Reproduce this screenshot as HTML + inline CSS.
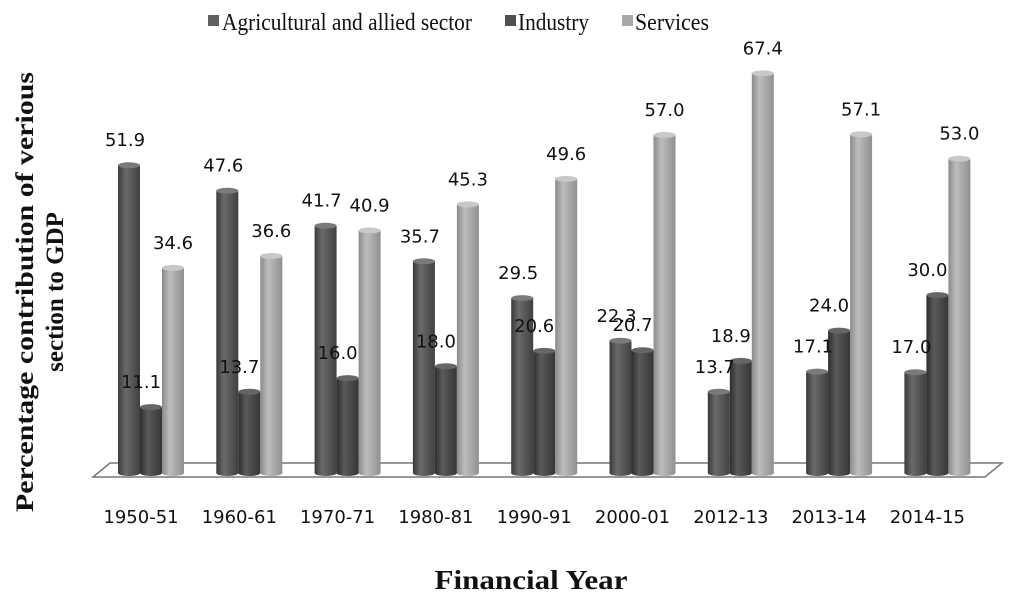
<!DOCTYPE html>
<html><head><style>body{margin:0;background:#fff}</style></head><body>
<svg width="1024" height="607" xmlns="http://www.w3.org/2000/svg">
<defs>
<linearGradient id="ga" x1="0" x2="1"><stop offset="0" stop-color="#3a3a3a"/><stop offset="0.35" stop-color="#6a6a6a"/><stop offset="1" stop-color="#404040"/></linearGradient>
<linearGradient id="gi" x1="0" x2="1"><stop offset="0" stop-color="#2e2e2e"/><stop offset="0.35" stop-color="#5a5a5a"/><stop offset="1" stop-color="#363636"/></linearGradient>
<linearGradient id="gs" x1="0" x2="1"><stop offset="0" stop-color="#8a8a8a"/><stop offset="0.35" stop-color="#bdbdbd"/><stop offset="1" stop-color="#909090"/></linearGradient>
</defs>
<polygon points="110,463 1002,463 985,477 93,477" fill="#fff" stroke="#777" stroke-width="1.5"/>
<g id="bars"></g>
<g font-family="Liberation Serif, serif" font-size="24" fill="#111">
<rect x="208" y="15" width="11" height="11" fill="#606060"/><text x="222" y="30" textLength="250" lengthAdjust="spacingAndGlyphs">Agricultural and allied sector</text>
<rect x="505" y="15" width="11" height="11" fill="#505050"/><text x="518" y="30" textLength="71" lengthAdjust="spacingAndGlyphs">Industry</text>
<rect x="622" y="15" width="11" height="11" fill="#a8a8a8"/><text x="635" y="30" textLength="74" lengthAdjust="spacingAndGlyphs">Services</text>
</g>
<g font-family="Liberation Serif, serif" font-weight="bold" fill="#111">
<text transform="translate(33,292) rotate(-90)" text-anchor="middle" font-size="25" textLength="440" lengthAdjust="spacingAndGlyphs">Percentage contribution of verious</text>
<text transform="translate(63,292) rotate(-90)" text-anchor="middle" font-size="25">section to GDP</text>
<text x="531" y="589" text-anchor="middle" font-size="27" textLength="193" lengthAdjust="spacingAndGlyphs">Financial Year</text>
</g>
<g id="txt" font-family="DejaVu Sans, sans-serif" font-size="18" fill="#111" text-anchor="middle"></g>
</svg>
<script>
var d=[["1950-51",51.9,11.1,34.6],["1960-61",47.6,13.7,36.6],["1970-71",41.7,16.0,40.9],["1980-81",35.7,18.0,45.3],["1990-91",29.5,20.6,49.6],["2000-01",22.3,20.7,57.0],["2012-13",13.7,18.9,67.4],["2013-14",17.1,24.0,57.1],["2014-15",17.0,30.0,53.0]];
var ns="http://www.w3.org/2000/svg",B=document.getElementById("bars"),T=document.getElementById("txt");
function el(p,n,a,t){var e=document.createElementNS(ns,n);for(var k in a)e.setAttribute(k,a[k]);if(t)e.textContent=t;p.appendChild(e);return e;}
var g=["ga","gi","gs"],tc=["#7a7a7a","#666","#c8c8c8"],off=[-4,-10,0];
d.forEach(function(r,i){var c=141+i*98.3;
el(T,"text",{x:c,y:523},r[0]);
for(var j=0;j<3;j++){var x=c-23+j*22,v=r[j+1],top=473-v*5.93;
el(B,"rect",{x:x,y:top,width:22,height:473-top,fill:"url(#"+g[j]+")"});
el(B,"ellipse",{cx:x+11,cy:top,rx:11,ry:3,fill:tc[j]});
el(B,"ellipse",{cx:x+11,cy:473,rx:11,ry:3,fill:"url(#"+g[j]+")"});
el(T,"text",{x:x+11+off[j],y:top-19},v.toFixed(1));}
});
</script>
</body></html>
